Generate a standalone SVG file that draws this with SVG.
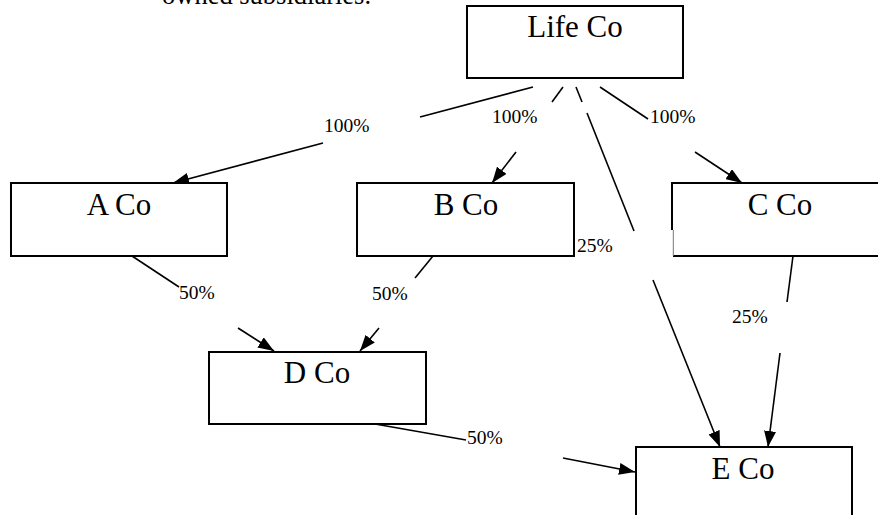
<svg xmlns="http://www.w3.org/2000/svg" width="878" height="515" viewBox="0 0 878 515">
  <defs>
    <marker id="arrow" markerUnits="userSpaceOnUse" markerWidth="18" markerHeight="12" refX="16" refY="6" orient="auto">
      <path d="M0,0 L16,6 L0,12 z" fill="#000"/>
    </marker>
    <style>
      .box { fill: #fff; stroke: #000; stroke-width: 2; }
      .name { font-family: "Liberation Serif", "Times New Roman", serif; font-size: 31px; text-anchor: middle; fill: #000; }
      .pct { font-family: "Liberation Serif", "Times New Roman", serif; font-size: 19.5px; fill: #000; }
      .conn line { stroke: #000; stroke-width: 1.6; fill: none; }
      .conn line.end { marker-end: url(#arrow); }
    </style>
  </defs>

  <rect width="878" height="515" fill="#fff"/>

  <!-- heading line running off the top edge -->
  <text x="162" y="4" font-family="Liberation Serif, Times New Roman, serif" font-size="26.5px" fill="#000">owned subsidiaries.</text>

  <!-- ownership connectors, broken where the percentages sit -->
  <g id="connectors" class="conn">
    <!-- Life Co to A Co -->
    <line x1="533" y1="87" x2="420" y2="117"/>
    <line class="end" x1="323" y1="143" x2="173" y2="183"/>
    <!-- Life Co to B Co -->
    <line x1="563" y1="87" x2="552" y2="102"/>
    <line class="end" x1="516" y1="152" x2="492" y2="183"/>
    <!-- Life Co to E Co -->
    <line x1="576" y1="87" x2="582" y2="102"/>
    <line x1="587" y1="113" x2="634" y2="231"/>
    <line class="end" x1="653" y1="280" x2="720" y2="447"/>
    <!-- Life Co to C Co -->
    <line x1="600" y1="87" x2="648" y2="119"/>
    <line class="end" x1="695" y1="152" x2="742" y2="183"/>
    <!-- C Co to E Co -->
    <line x1="793" y1="256" x2="787" y2="302"/>
    <line class="end" x1="780" y1="353" x2="768" y2="447"/>
    <!-- A Co to D Co -->
    <line x1="132" y1="256" x2="179" y2="287"/>
    <line class="end" x1="238" y1="328" x2="274" y2="351"/>
    <!-- B Co to D Co -->
    <line x1="433" y1="256" x2="415" y2="278"/>
    <line class="end" x1="379" y1="328" x2="360" y2="351"/>
    <!-- D Co to E Co -->
    <line x1="375" y1="424" x2="466" y2="440"/>
    <line class="end" x1="563" y1="458" x2="635" y2="472"/>
  </g>

  <!-- percentage labels -->
  <g id="labels">
    <text class="pct" x="324" y="132">100%</text>
    <text class="pct" x="492" y="123">100%</text>
    <text class="pct" x="650" y="123">100%</text>
    <text class="pct" x="577" y="252">25%</text>
    <text class="pct" x="179" y="299">50%</text>
    <text class="pct" x="372" y="300">50%</text>
    <text class="pct" x="732" y="323">25%</text>
    <text class="pct" x="467" y="444">50%</text>
  </g>

  <g id="life-co">
    <rect class="box" x="467" y="6" width="216" height="72"/>
    <text class="name" x="575" y="37">Life Co</text>
  </g>

  <g id="a-co">
    <rect class="box" x="11" y="183" width="216" height="73"/>
    <text class="name" x="119" y="215">A Co</text>
  </g>

  <g id="b-co">
    <rect class="box" x="357" y="183" width="217" height="73"/>
    <text class="name" x="466" y="215">B Co</text>
  </g>

  <g id="c-co">
    <rect x="672" y="183" width="220" height="73" fill="#fff"/>
    <line x1="671" y1="183" x2="880" y2="183" stroke="#000" stroke-width="2"/>
    <line x1="673" y1="256" x2="880" y2="256" stroke="#000" stroke-width="2"/>
    <line x1="672" y1="183" x2="672" y2="230" stroke="#000" stroke-width="2"/>
    <line x1="673.3" y1="230" x2="673.3" y2="256" stroke="#777" stroke-width="1"/>
    <text class="name" x="780" y="215">C Co</text>
  </g>

  <g id="d-co">
    <rect class="box" x="209" y="352" width="217" height="72"/>
    <text class="name" x="317" y="383">D Co</text>
  </g>

  <g id="e-co">
    <rect class="box" x="636" y="447" width="216" height="100"/>
    <text class="name" x="743" y="479">E Co</text>
  </g>
</svg>
